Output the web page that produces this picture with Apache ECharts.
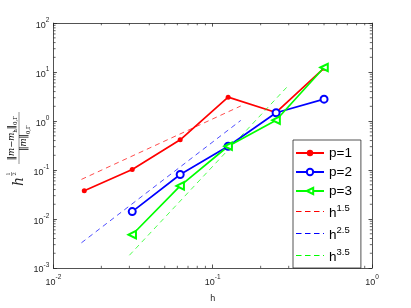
<!DOCTYPE html>
<html>
<head>
<meta charset="utf-8">
<script src="https://cdn.jsdelivr.net/npm/echarts@6/dist/echarts.min.js"></script>
<style>html,body{margin:0;padding:0;background:#fff;}#c{width:411px;height:308px;}</style>
</head>
<body>
<div id="c"></div>
<script>
// ---- data ----
const hAll = [1/64, 1/32, 1/16, 1/8, 1/4, 1/2];
const hP23 = [1/32, 1/16, 1/8, 1/4, 1/2];
const errP1 = [0.0377, 0.103, 0.415, 3.08, 1.50, 12.0];
const errP2 = [0.0142, 0.081, 0.306, 1.48, 2.80];
const errP3 = [0.00478, 0.0473, 0.306, 1.04, 12.4];
const refH15 = [[0.015, 0.0644], [0.15, 2.03]];
const refH25 = [[0.015, 0.00327], [0.15, 1.03]];
const refH35 = [[0.03, 0.00182], [0.3, 5.4]];
const minorMult = [2, 3, 4, 5, 6, 7, 8, 9];
const xDecades = [0.01, 0.1];
const yDecades = [0.001, 0.01, 0.1, 1, 10];
const xLabel = 'h';

const AX = '#262626';
const FONT = 'Liberation Sans';
const RED = '#ff0000', BLUE = '#0000ff', GREEN = '#00ff00';
const zip = (xs, ys) => xs.map((x, i) => [x, ys[i]]);

const minorData = [];
xDecades.forEach(d => minorMult.forEach(m => minorData.push([d * m, 1, 0])));
yDecades.forEach(d => minorMult.forEach(m => minorData.push([0.1, d * m, 1])));

const supRich = {
  b: {fontSize: 9, fontFamily: FONT, color: AX, lineHeight: 13, verticalAlign: 'bottom'},
  s: {fontSize: 6.5, fontFamily: FONT, color: AX, lineHeight: 13, verticalAlign: 'top'}
};
const expFmt = v => {
  const e = Math.round(Math.log10(v));
  return '{b|10}{s|' + (e < 0 ? '-' + (-e) : e) + '}';
};

const chart = echarts.init(document.getElementById('c'), null, {renderer: 'canvas'});
const legendNames = {'h1.5': '1.5', 'h2.5': '2.5', 'h3.5': '3.5'};
const DASH_ICON = 'path://M0,0h5.5v0.8h-5.5z M9,0h5.5v0.8h-5.5z M18,0h5.5v0.8h-5.5z M27,0h1v0.8h-1z';

const option = {
  animation: false,
  backgroundColor: '#fff',
  grid: {left: 53.4, right: 39, top: 23.1, bottom: 33.9, containLabel: false},
  xAxis: [{
    type: 'log', logBase: 10, min: 0.01, max: 1,
    name: xLabel, nameLocation: 'middle', nameGap: 26,
    nameTextStyle: {fontSize: 9, fontFamily: FONT, color: AX},
    axisLine: {show: true, lineStyle: {color: AX, width: 0.8}},
    axisTick: {show: true, inside: true, length: 3.5, lineStyle: {color: AX, width: 0.8}},
    axisLabel: {formatter: expFmt, rich: supRich, margin: 6},
    splitLine: {show: false}, minorTick: {show: false}
  }, {
    type: 'log', logBase: 10, min: 0.01, max: 1, position: 'top',
    axisLine: {show: true, lineStyle: {color: AX, width: 0.8}},
    axisTick: {show: true, inside: true, length: 3.5, lineStyle: {color: AX, width: 0.8}},
    axisLabel: {show: false}, splitLine: {show: false}
  }],
  yAxis: [{
    type: 'log', logBase: 10, min: 0.001, max: 100, interval: 1,
    axisLine: {show: true, lineStyle: {color: AX, width: 0.8}},
    axisTick: {show: true, inside: true, length: 3.5, lineStyle: {color: AX, width: 0.8}},
    axisLabel: {formatter: expFmt, rich: supRich, margin: 4},
    splitLine: {show: false}
  }, {
    type: 'log', logBase: 10, min: 0.001, max: 100, interval: 1, position: 'right',
    axisLine: {show: true, lineStyle: {color: AX, width: 0.8}},
    axisTick: {show: true, inside: true, length: 3.5, lineStyle: {color: AX, width: 0.8}},
    axisLabel: {show: false}, splitLine: {show: false}
  }],
  legend: {
    orient: 'vertical', left: 293, top: 140,
    backgroundColor: '#fff', borderColor: AX, borderWidth: 0.8,
    padding: [6, 9, 4, 2], itemGap: 5, itemWidth: 28, itemHeight: 8,
    data: [
      {name: 'p=1'}, {name: 'p=2'}, {name: 'p=3'},
      {name: 'h1.5', icon: DASH_ICON},
      {name: 'h2.5', icon: DASH_ICON},
      {name: 'h3.5', icon: DASH_ICON}
    ],
    formatter: n => legendNames[n] ? '{h|h}{e|' + legendNames[n] + '}' : '{p|' + n + '}',
    textStyle: {
      color: '#000', fontFamily: FONT,
      rich: {
        p: {fontSize: 13.5, fontFamily: FONT, color: '#000', lineHeight: 15},
        h: {fontSize: 13.5, fontFamily: FONT, color: '#000', lineHeight: 17, verticalAlign: 'bottom'},
        e: {fontSize: 9.5, fontFamily: FONT, color: '#000', lineHeight: 17, verticalAlign: 'top'}
      }
    }
  },
  series: [
    {name: 'p=1', type: 'line', data: zip(hAll, errP1), color: RED,
     lineStyle: {width: 1.7}, symbol: 'circle', symbolSize: 5, itemStyle: {color: RED}},
    {name: 'p=2', type: 'line', data: zip(hP23, errP2), color: BLUE,
     lineStyle: {width: 1.7}, symbol: 'emptyCircle', symbolSize: 7,
     itemStyle: {color: BLUE, borderWidth: 1.4}},
    {name: 'p=3', type: 'line', data: zip(hP23, errP3), color: GREEN,
     lineStyle: {width: 1.7}, symbol: 'emptyTriangle', symbolSize: 7.5, symbolRotate: 90,
     itemStyle: {color: GREEN, borderWidth: 1.4}},
    {name: 'h1.5', type: 'line', data: refH15, color: RED, symbol: 'none',
     itemStyle: {color: RED}, lineStyle: {width: 0.7, type: [5, 4], color: RED}},
    {name: 'h2.5', type: 'line', data: refH25, color: BLUE, symbol: 'none',
     itemStyle: {color: BLUE}, lineStyle: {width: 0.7, type: [5, 4], color: BLUE}},
    {name: 'h3.5', type: 'line', data: refH35, color: GREEN, symbol: 'none',
     itemStyle: {color: GREEN}, lineStyle: {width: 0.7, type: [5, 4], color: GREEN}},
    {name: 'minor', type: 'custom', data: minorData, silent: true, clip: false, z: 1,
     renderItem: function (params, api) {
       const cs = params.coordSys;
       const L = 2.2;
       const ls = {stroke: AX, lineWidth: 0.7};
       if (api.value(2) === 0) {
         const px = api.coord([api.value(0), 1])[0];
         const b = cs.y + cs.height;
         return {type: 'group', children: [
           {type: 'line', shape: {x1: px, y1: b, x2: px, y2: b - L}, style: ls},
           {type: 'line', shape: {x1: px, y1: cs.y, x2: px, y2: cs.y + L}, style: ls}
         ]};
       }
       const py = api.coord([0.1, api.value(1)])[1];
       const r = cs.x + cs.width;
       return {type: 'group', children: [
         {type: 'line', shape: {x1: cs.x, y1: py, x2: cs.x + L, y2: py}, style: ls},
         {type: 'line', shape: {x1: r, y1: py, x2: r - L, y2: py}, style: ls}
       ]};
     }}
  ],
  graphic: [{
    type: 'group', x: 19, y: 146, rotation: Math.PI / 2,
    children: [
      {type: 'text', x: -40, y: 0, style: {text: 'h', font: 'italic 14px "DejaVu Serif"', fill: AX, textAlign: 'left', textVerticalAlign: 'middle'}},
      {type: 'text', x: -28, y: -10, style: {text: '1', font: '5px "DejaVu Serif"', fill: AX, textAlign: 'center', textVerticalAlign: 'middle'}},
      {type: 'line', shape: {x1: -30, y1: -7.5, x2: -26, y2: -7.5}, style: {stroke: AX, lineWidth: 0.5}},
      {type: 'text', x: -28, y: -4.5, style: {text: '2', font: '5px "DejaVu Serif"', fill: AX, textAlign: 'center', textVerticalAlign: 'middle'}},
      {type: 'text', x: 8, y: -6, style: {
        text: '{n|‖}{i|m}{n|−}{i|m}{s|h}{n|‖}{s|0,Γ}', textAlign: 'center', textVerticalAlign: 'middle',
        rich: {
          n: {fontSize: 8.5, fontFamily: 'DejaVu Serif', color: AX, lineHeight: 12, verticalAlign: 'top'},
          i: {fontSize: 8.5, fontFamily: 'DejaVu Serif', fontStyle: 'italic', color: AX, lineHeight: 12, verticalAlign: 'top'},
          s: {fontSize: 5.5, fontFamily: 'DejaVu Serif', color: AX, lineHeight: 12, verticalAlign: 'bottom'}
        }}},
      {type: 'line', shape: {x1: -18, y1: 0, x2: 34, y2: 0}, style: {stroke: AX, lineWidth: 0.5}},
      {type: 'text', x: 8, y: 6.5, style: {
        text: '{n|‖}{i|m}{n|‖}{s|0,Γ}', textAlign: 'center', textVerticalAlign: 'middle',
        rich: {
          n: {fontSize: 8.5, fontFamily: 'DejaVu Serif', color: AX, lineHeight: 12, verticalAlign: 'top'},
          i: {fontSize: 8.5, fontFamily: 'DejaVu Serif', fontStyle: 'italic', color: AX, lineHeight: 12, verticalAlign: 'top'},
          s: {fontSize: 5.5, fontFamily: 'DejaVu Serif', color: AX, lineHeight: 12, verticalAlign: 'bottom'}
        }}}
    ]
  }]
};
chart.setOption(option);
</script>
</body>
</html>
